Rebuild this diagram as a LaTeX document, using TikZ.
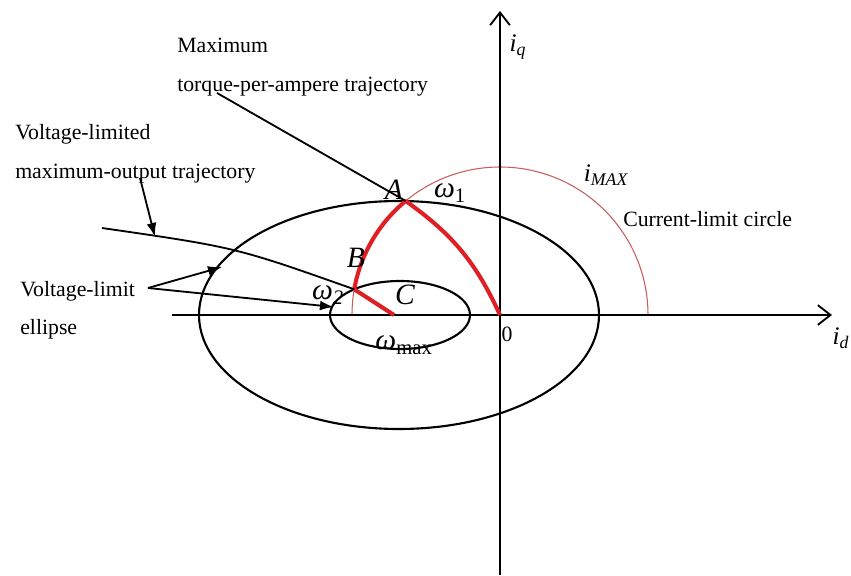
\documentclass[tikz,border=0pt]{standalone}
\usepackage{fontspec}
\setmainfont{Liberation Serif}
\usetikzlibrary{arrows.meta}
\definecolor{trajred}{RGB}{222,32,36}
\definecolor{limitred}{RGB}{200,92,92}

\begin{document}
\begin{tikzpicture}[
  axisline/.style={line width=1.5pt, -{Straight Barb[length=9pt,width=14pt,line width=1.3pt]}},
  curve/.style={line width=1.5pt},
  limitcircle/.style={limitred, line width=0.75pt},
  traj/.style={trajred, line width=2.9pt, line join=round},
  leader/.style={line width=1.3pt},
  leadarrow/.style={line width=1.3pt, -{Latex[length=10pt,width=7pt]}},
  txt/.style={font=\fontsize{15.5}{18}\selectfont, inner sep=0pt, anchor=base west},
  sym/.style={font=\fontsize{21}{24}\selectfont\itshape, inner sep=0pt},
  axlbl/.style={font=\fontsize{18}{20}\selectfont\itshape, inner sep=0pt}
]
  \useasboundingbox (-12.5,-6.5) rectangle (8.775,7.875);

  %% --- current-limit circle and voltage-limit ellipses ---
  \draw[limitcircle] (3.7,0) arc[start angle=0, end angle=180, radius=3.7];
  \draw[curve] (-2.525,0) ellipse [x radius=5, y radius=2.85];
  \draw[curve] (-2.5,0) ellipse [x radius=1.75, y radius=0.85];

  %% --- axes ---
  \coordinate (O) at (0,0);
  \coordinate (dleft) at (-8.2,0);
  \coordinate (dright) at (8.3,0);
  \coordinate (qbottom) at (0,-6.5);
  \coordinate (qtop) at (0,7.6);
  \draw[axisline] (dleft) -- (dright);
  \draw[axisline] (qbottom) -- (qtop);
  \node[axlbl] (id) at (8.525,-0.575) {i\textsubscript{d}};
  \node[axlbl] (iq) at (0.45,6.7) {i\textsubscript{q}};
  \node[font=\fontsize{15.5}{18}\selectfont, inner sep=0pt] (zero) at (0.175,-0.475) {0};

  %% --- operating trajectory O -> A -> B -> C ---
  \coordinate (A) at (129.6:3.7);
  \coordinate (B) at (170:3.7);
  \coordinate (C) at (-2.65,0);
  \draw[traj] (O) to[bend right=15] (A)
    arc[start angle=129.6, end angle=170, radius=3.7] -- (C);

  \node[sym] (Alabel) at (-2.65,3.12) {A};
  \node[sym] (Blabel) at (-3.6,1.425) {B};
  \node[sym] (Clabel) at (-2.375,0.5) {C};
  \node[sym] (w1) at (-1.25,3.05) {ω\textsubscript{\upshape 1}};
  \node[sym] (w2) at (-4.3,0.5) {ω\textsubscript{2}};
  \node[sym] (wmax) at (-2.4,-0.75) {ω\textsubscript{\upshape max}};
  \node[axlbl] (imax) at (2.65,3.5) {i\textsubscript{MAX}};

  %% --- annotations ---
  \node[txt] (mtpa1) at (-8.075,6.55) {Maximum};
  \node[txt] (mtpa2) at ([yshift=-0.975cm]mtpa1.base west) {torque-per-ampere trajectory};
  \node[txt] (vlmo1) at (-12.125,4.375) {Voltage-limited};
  \node[txt] (vlmo2) at ([yshift=-0.975cm]vlmo1.base west) {maximum-output trajectory};
  \node[txt] (vle1) at (-12.0,0.45) {Voltage-limit};
  \node[txt] (vle2) at ([yshift=-0.95cm]vle1.base west) {ellipse};
  \node[txt] (clc) at (3.075,2.2) {Current-limit circle};

  %% leaders
  \coordinate (mtpafoot) at (-7.075,5.55);
  \draw[leader] (mtpafoot) -- (A);

  \coordinate (vlmofoot) at (-9.0,3.425);
  \coordinate (vlmotip) at (-8.625,1.95);
  \draw[leadarrow] (vlmofoot) -- (vlmotip);
  \coordinate (vlmostart) at (-9.95,2.175);
  \draw[leader] (vlmostart) .. controls (-6.6,1.69) .. (B);

  \coordinate (vlefork) at (-8.8,0.675);
  \coordinate (bigtip) at (-6.95,1.2);
  \coordinate (smalltip) at (-4.15,0.2);
  \draw[leadarrow] (vlefork) -- (bigtip);
  \draw[leadarrow] (vlefork) -- (smalltip);
\end{tikzpicture}
\end{document}
